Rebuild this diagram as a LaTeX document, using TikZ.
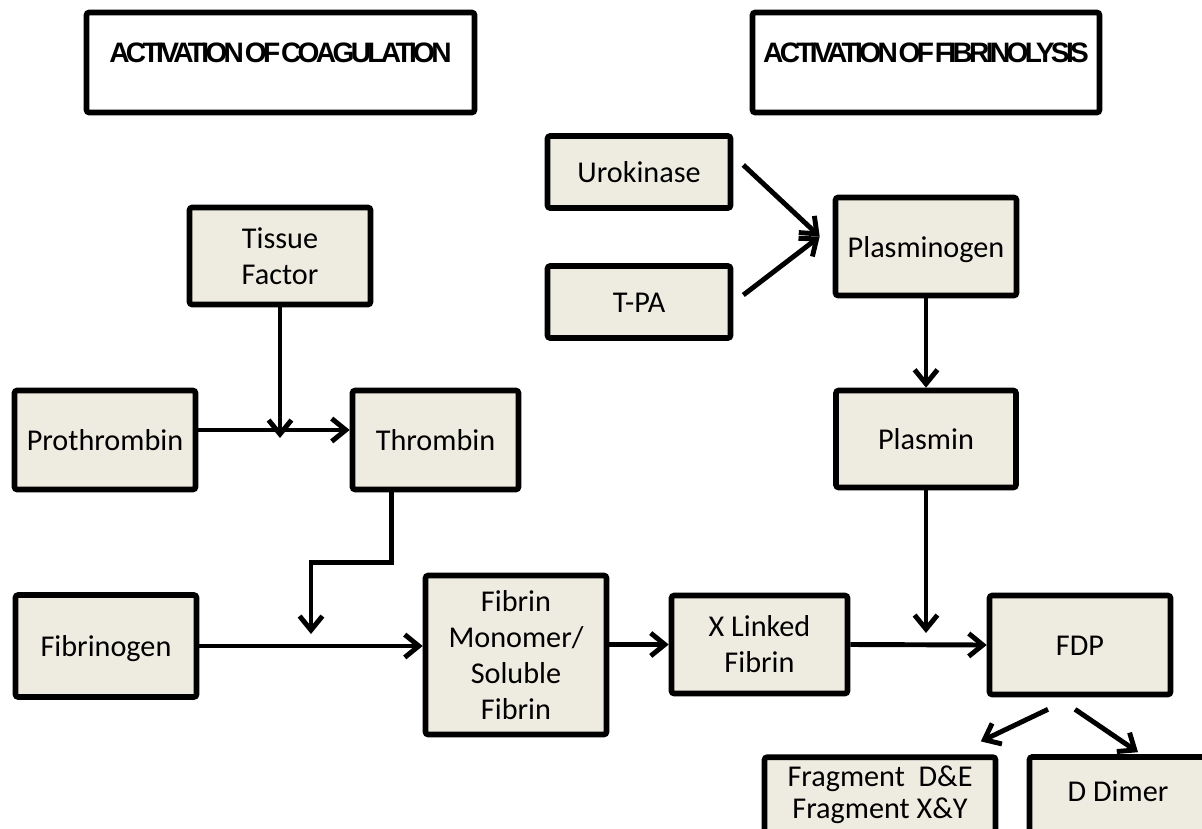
\documentclass[tikz,border=0pt]{standalone}
\usepackage{fontspec}
\setmainfont{Carlito}
\newfontfamily\headfont[LetterSpace=-13,WordSpace=0.2]{Liberation Sans}
\usepackage{xcolor}
\usepackage{tikz}
\usetikzlibrary{arrows.meta,calc}
\definecolor{boxfill}{HTML}{EEECE1}
\tikzset{
  stage/.style={draw=black,line width=3.2pt,fill=boxfill,rounded corners=1.5pt,
    inner sep=0pt,font=\fontsize{17.2}{20.6}\selectfont},
  oneline/.style={text height=16pt,text depth=3.6pt},
  multi/.style={align=center},
  head/.style={draw=black,line width=3.2pt,fill=white,rounded corners=1.5pt,
    inner sep=0pt,text height=6pt,text depth=6pt,
    font=\headfont\bfseries\fontsize{16}{19}\selectfont},
  boxsize/.style 2 args={minimum width=#1*0.02cm,minimum height=#2*0.02cm},
  flow/.style={line width=2.8pt,-{Straight Barb[length=8pt,width=13pt]}}
}

\begin{document}
\begin{tikzpicture}[x=0.02cm,y=-0.02cm]
  \useasboundingbox (0,0) rectangle (1202,828);
  \clip (0,0) rectangle (1202,828);
  \node[head,boxsize={388}{100}] (coaghead) at (280.5,62.5) {ACTIVATION OF COAGULATION};
  \node[head,boxsize={347}{100}] (fibhead) at (926,62.5) {ACTIVATION OF FIBRINOLYSIS};
  \node[stage,oneline,boxsize={183}{72}] (uro) at (639,172) {Urokinase};
  \node[stage,oneline,boxsize={183}{72}] (tpa) at (639,302) {T-PA};
  \node[stage,oneline,boxsize={181}{98}] (plgn) at (926,246.5) {Plasminogen};
  \node[stage,multi,boxsize={181}{97}] (tf) at (280,256) {Tissue\\Factor};
  \node[stage,oneline,boxsize={181}{99}] (proth) at (105,440) {Prothrombin};
  \node[stage,oneline,boxsize={166}{99}] (thromb) at (435.5,440) {Thrombin};
  \node[stage,oneline,boxsize={180}{97}] (plasmin) at (926,439) {Plasmin};
  \node[stage,oneline,boxsize={181}{102}] (fgn) at (106,646) {Fibrinogen};
  \node[stage,multi,boxsize={181}{159}] (monomer) at (516,655)
    {Fibrin\\Monomer/\\Soluble\\Fibrin};
  \node[stage,multi,boxsize={176}{98}] (xlink) at (759.5,644.5) {X Linked\\Fibrin};
  \node[stage,oneline,boxsize={181}{99}] (fdp) at (1080,645) {FDP};
  \node[stage,align=center,inner ysep=5pt,minimum width=231*0.02cm,
    font=\fontsize{17.2}{18.1}\selectfont] (frag) at (880,794.8)
    {Fragment~ D\&E\\Fragment X\&Y};
  \node[stage,boxsize={177}{80},text height=9.2pt,text depth=3.6pt] (ddimer)
    at (1118,797) {D Dimer};

  \coordinate (plgnin) at ($(plgn.west)+(-13,-10)$);
  \draw[flow] ($(uro.east)+(10,-7)$) -- (plgnin);
  \draw[flow] ($(tpa.east)+(10,-7)$) -- (plgnin);
  \draw[flow] (plgn.south) -- (plasmin.north);

  \coordinate (pt) at ($(proth.east)+(0,-10)$);
  \draw[flow] (pt) -- (pt -| thromb.west);
  \draw[flow] (tf.south) -- ($(tf.south |- pt)+(0,8)$);

  \coordinate (fgnjoin) at ($(fgn.east)!0.5!(fgn.east -| monomer.west)$);
  \draw[flow] (fgn.east) -- (fgn.east -| monomer.west);
  \draw[flow] ($(thromb.south)+(-44,0)$) -- ++(0,70) -| ($(fgnjoin)+(0,-12)$);

  \draw[flow] (monomer.east |- xlink.west) -- (xlink.west);
  \draw[flow] (xlink.east) -- (fdp.west);
  \draw[flow] (plasmin.south) -- ($(plasmin.south |- fdp.west)+(0,-12)$);

  \draw[flow] ($(fdp.south)+(-32,12)$) -- ($(frag.north east)+(-17.5,-13)$);
  \draw[flow] ($(fdp.south)+(-5,12)$) -- ($(ddimer.north)+(20,-2)$);
\end{tikzpicture}
\end{document}
